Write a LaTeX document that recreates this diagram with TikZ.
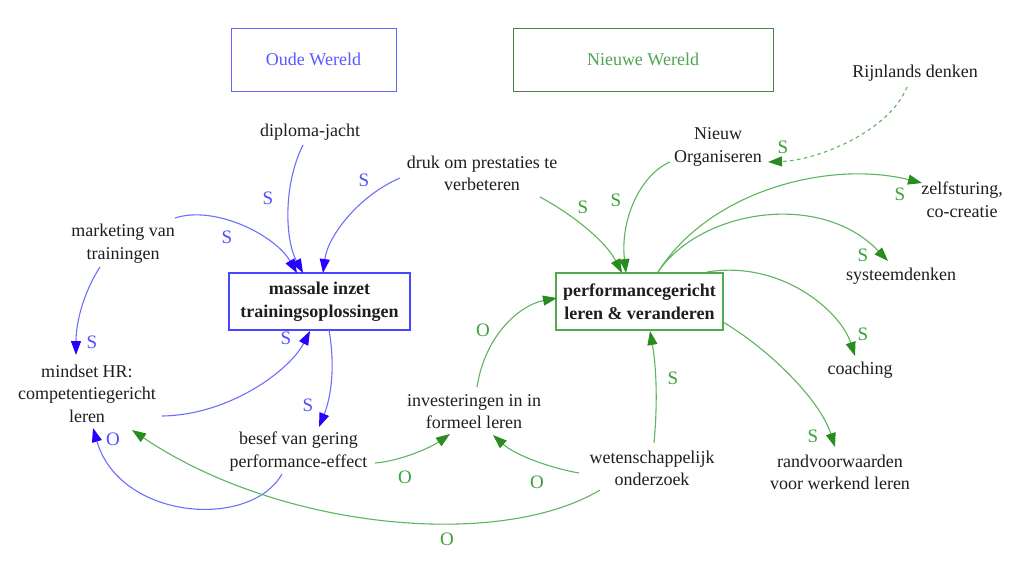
\documentclass[tikz,border=0pt]{standalone}
\usepackage{fontspec}
\setmainfont{Liberation Serif}
\usetikzlibrary{arrows.meta}
\definecolor{txtc}{RGB}{30,30,30}
\definecolor{bline}{RGB}{110,110,255}
\definecolor{bhead}{RGB}{40,0,255}
\definecolor{blab}{RGB}{80,80,255}
\definecolor{gline}{RGB}{95,180,95}
\definecolor{ghead}{RGB}{40,140,30}
\definecolor{glab}{RGB}{60,160,60}
\definecolor{nwbord}{RGB}{70,130,70}
\definecolor{nwtext}{RGB}{80,165,80}
\definecolor{owbord}{RGB}{100,100,255}
\definecolor{owtext}{RGB}{90,90,255}
\definecolor{mbord}{RGB}{70,70,255}
\definecolor{pbord}{RGB}{80,170,80}
\begin{document}
\begin{tikzpicture}[x=1pt,y=-1pt,
  txt/.style={font=\fontsize{18}{22.5}\selectfont, text=txtc, align=center, inner sep=1pt},
  bxo/.style={draw, line width=1pt, align=center, font=\fontsize{18}{22.5}\selectfont, minimum height=63pt},
  bxm/.style={draw, line width=1.1pt, align=center, text=txtc, font=\fontsize{18}{22.5}\selectfont\bfseries, minimum height=57pt, inner sep=0pt},
  lab/.style={font=\fontsize{19}{21}\selectfont, inner sep=0pt},
  blab/.style={lab, text=blab},
  glab/.style={lab, text=glab},
  bedge/.style={draw=bline, line width=1.1pt, -{Triangle[length=14pt,width=10pt,color=bhead]}},
  gedge/.style={draw=gline, line width=1.1pt, -{Triangle[length=14pt,width=10pt,color=ghead]}},
  gdash/.style={gedge, dash pattern=on 3.5pt off 3.5pt}
]
\useasboundingbox (0,0) rectangle (1024,570);
\fill[white] (0,0) rectangle (1024,570);

% header boxes
\node[bxo, draw=owbord, text=owtext, minimum width=165pt] (oude) at (313.5,59.5) {Oude Wereld};
\node[bxo, draw=nwbord, text=nwtext, minimum width=260pt] (nieuwe) at (643,59.5) {Nieuwe Wereld};

% main boxes
\node[bxm, draw=mbord, minimum width=181pt] (massale) at (319.5,301.5) {massale inzet\\trainingsoplossingen};
\node[bxm, draw=pbord, minimum width=167pt] (perf) at (639.5,301.5) {performancegericht\\leren \& veranderen};

% text nodes
\node[txt] (rijn) at (915,73) {Rijnlands denken};
\node[txt] (diploma) at (310,132) {diploma-jacht};
\node[txt] (druk) at (482,173.5) {druk om prestaties te\\verbeteren};
\node[txt] (nieuw) at (718,147) {Nieuw\\Organiseren};
\node[txt] (mkt) at (123,243.5) {marketing van\\trainingen};
\node[txt] (zelf) at (962,199.5) {zelfsturing,\\co-creatie};
\node[txt] (sys) at (901,276) {systeemdenken};
\node[txt] (coach) at (860,370) {coaching};
\node[txt] (mindset) at (87,393.5) {mindset HR:\\competentiegericht\\leren};
\node[txt] (invest) at (474,411.5) {investeringen in in\\formeel leren};
\node[txt] (besef) at (298.5,451.5) {besef van gering\\performance-effect};
\node[txt] (weten) at (652,468.5) {wetenschappelijk\\onderzoek};
\node[txt] (rand) at (840,472.5) {randvoorwaarden\\voor werkend leren};

% blue connectors
\draw[bedge] ([shift={(-7,13)}]diploma.center) .. controls (283,185) and (285,240) .. ([shift={(-16.5,-28.5)}]massale.center);
\draw[bedge] ([shift={(-82,4.5)}]druk.center) .. controls (360,195) and (328,235) .. ([shift={(3.5,-28.5)}]massale.center);
\draw[bedge] ([shift={(52,-25.5)}]mkt.center) .. controls (215,205) and (275,235) .. ([shift={(-22.5,-28.5)}]massale.center);
\draw[bedge] ([shift={(-23,23.5)}]mkt.center) .. controls (85,290) and (76,320) .. ([shift={(-11,-38.5)}]mindset.center);
\draw[bedge] ([shift={(75,22.5)}]mindset.center) .. controls (230,415) and (290,370) .. ([shift={(-9.5,29.5)}]massale.center);
\draw[bedge] ([shift={(9.5,28.5)}]massale.center) .. controls (336,370) and (330,400) .. ([shift={(20.5,-24.5)}]besef.center);
\draw[bedge] ([shift={(-16.5,22.5)}]besef.center) .. controls (250,530) and (120,520) .. ([shift={(6,34.5)}]mindset.center);

% green connectors
\draw[gedge] ([shift={(76.5,11.5)}]besef.center) .. controls (400,461) and (430,448) .. ([shift={(-24,22.5)}]invest.center);
\draw[gedge] ([shift={(-73,4.5)}]weten.center) .. controls (550,468) and (515,455) .. ([shift={(19,23.5)}]invest.center);
\draw[gedge] ([shift={(-52,21.5)}]weten.center) .. controls (500,550) and (280,530) .. ([shift={(45,36.5)}]mindset.center);
\draw[gedge] ([shift={(3,-24.5)}]invest.center) .. controls (485,335) and (520,305) .. ([shift={(-82.5,-3.5)}]perf.center);
\draw[gedge] ([shift={(2,-25.5)}]weten.center) .. controls (658,400) and (656,365) .. ([shift={(10.5,29.5)}]perf.center);
\draw[gedge] ([shift={(58,23.5)}]druk.center) .. controls (570,213) and (605,240) .. ([shift={(-17.5,-28.5)}]perf.center);
\draw[gedge] ([shift={(-48,15)}]nieuw.center) .. controls (640,175) and (620,220) .. ([shift={(-13.5,-28.5)}]perf.center);
\draw[gdash] ([shift={(-8,14)}]rijn.center) .. controls (890,130) and (820,160) .. ([shift={(50,15)}]nieuw.center);
\draw[gedge] ([shift={(18.5,-29.5)}]perf.center) .. controls (710,190) and (830,160) .. ([shift={(-40,-16.5)}]zelf.center);
\draw[gedge] ([shift={(18.5,-29.5)}]perf.center) .. controls (700,210) and (820,190) .. ([shift={(-13,-15)}]sys.center);
\draw[gedge] ([shift={(67.5,-29.5)}]perf.center) .. controls (780,260) and (840,310) .. ([shift={(-5,-14)}]coach.center);
\draw[gedge] ([shift={(83.5,20.5)}]perf.center) .. controls (770,350) and (820,400) .. ([shift={(-5,-25.5)}]rand.center);

% labels
\node[blab] (l1) at (268,198) {S};
\node[blab] (l2) at (364,180) {S};
\node[blab] (l3) at (227,237) {S};
\node[blab] (l4) at (92,342) {S};
\node[blab] (l5) at (286,338) {S};
\node[blab] (l6) at (308,405) {S};
\node[blab] (l7) at (113,439) {O};
\node[glab] (l8) at (405,477) {O};
\node[glab] (l9) at (537,482) {O};
\node[glab] (l10) at (447,539) {O};
\node[glab] (l11) at (483,330) {O};
\node[glab] (l12) at (673,378) {S};
\node[glab] (l13) at (583,207) {S};
\node[glab] (l14) at (616,200) {S};
\node[glab] (l15) at (783,147) {S};
\node[glab] (l16) at (900,194) {S};
\node[glab] (l17) at (863,255) {S};
\node[glab] (l18) at (863,334) {S};
\node[glab] (l19) at (813,436) {S};
\end{tikzpicture}
\end{document}
